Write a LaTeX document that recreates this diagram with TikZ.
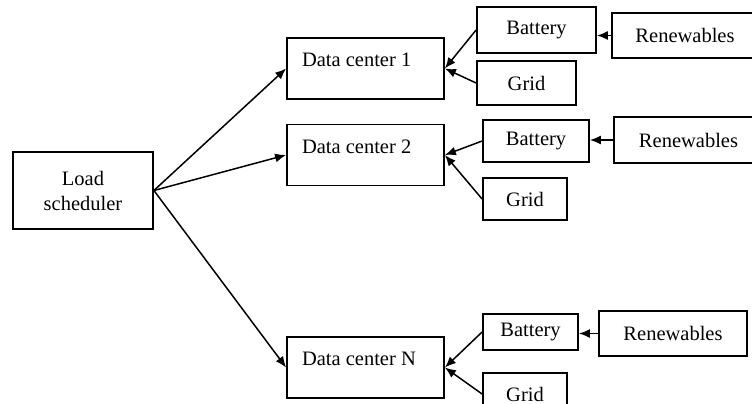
\documentclass[tikz,border=0pt]{standalone}
\usepackage{fontspec}
\setmainfont{Liberation Serif}
\usetikzlibrary{arrows.meta}

\begin{document}
\begin{tikzpicture}[x=1pt, y=-1pt, font=\fontsize{20.5}{25}\selectfont,
    box/.style={draw, line width=1.8pt, inner sep=0pt, align=center},
    center/.style={box, minimum width=157pt, minimum height=61pt, text width=127pt,
      inner xsep=15pt, align=flush left, text depth=17pt},
    link/.style={-{Latex[length=11pt, width=9pt]}, line width=1.5pt}]
      \def \dcx {365.5}
      \useasboundingbox (0,0) rectangle (752,404);

      % scheduler and data centers
      \node[box, minimum width=140pt, minimum height=77pt](load) at (83,190.5) {Load\\scheduler};
      \node[center](dc1) at (\dcx,68.5) {Data center 1};
      \node[center](dc2) at (\dcx,155) {Data center 2};
      \node[center](dcN) at (\dcx,367.5) {Data center N};

      % batteries, grids, renewables
      \node[box, minimum width=119pt, minimum height=46pt](bat1) at (536.5,30) {Battery};
      \node[box, minimum width=99pt, minimum height=44pt](grid1) at (526.5,83) {Grid};
      \node[box, minimum width=146pt, minimum height=45pt](ren1) at (685,35.5) {Renewables};

      \node[box, minimum width=106pt, minimum height=42pt](bat2) at (536,141) {Battery};
      \node[box, minimum width=84pt, minimum height=42pt](grid2) at (525,199) {Grid};
      \node[box, minimum width=149pt, minimum height=46pt](ren2) at (688.5,140) {Renewables};

      \node[box, minimum width=95pt, minimum height=36pt](batN) at (530.5,332) {Battery};
      \node[box, minimum width=84pt, minimum height=42pt](gridN) at (525,394) {Grid};
      \node[box, minimum width=148pt, minimum height=45pt](renN) at (673,333.5) {Renewables};

      \foreach \s in {1,2,N}
      {
        \draw[link] (load.east) -- (dc\s.west);
        \draw[link] (bat\s.west) -- (dc\s.east);
        \draw[link] (grid\s.west) -- (dc\s.east);
        \draw[link] (ren\s.west) -- (ren\s.west -| bat\s.east);
      }
    \end{tikzpicture}
\end{document}
